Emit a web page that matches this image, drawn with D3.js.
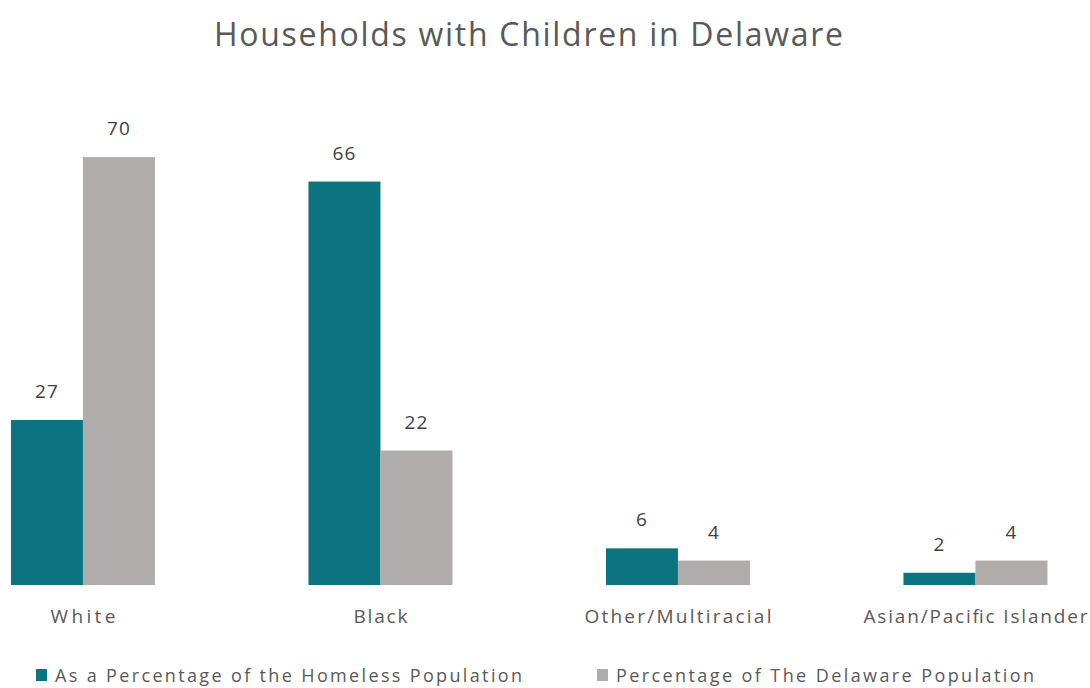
<!DOCTYPE html>
<html>
<head>
<meta charset="utf-8">
<script src="https://cdn.jsdelivr.net/npm/d3@7/dist/d3.min.js"></script>
<style>
  html, body { margin: 0; padding: 0; background: #ffffff; }
  svg { display: block; font-family: "Open Sans", "Noto Sans", sans-serif; }
</style>
</head>
<body>
<svg id="chart" width="1090" height="688"></svg>
<script>
// Chart data
const categories = ["White", "Black", "Other/Multiracial", "Asian/Pacific Islander"];
const seriesNames = ["As a Percentage of the Homeless Population", "Percentage of The Delaware Population"];
const homelessPct = [27, 66, 6, 2];
const delawarePct = [70, 22, 4, 4];
const seriesColors = ["#0b7480", "#b0acab"];

// Layout: rendered widths of the wide-set text runs
const categoryLabelWidths = [65, 54, 187, 224];
const legendTextWidths = [467, 418];
const legendX = [36, 597];

const svg = d3.select("#chart");
const textColor = "#595959";

// Title
svg.append("text")
  .attr("x", 528.5).attr("y", 46)
  .attr("text-anchor", "middle")
  .attr("fill", textColor)
  .attr("font-size", 32)
  .attr("textLength", 629)
  .attr("lengthAdjust", "spacing")
  .text("Households with Children in Delaware");

// Scales
const x0 = d3.scaleBand()
  .domain(categories)
  .range([-65.8, 1124.2])
  .paddingInner(0.516)
  .paddingOuter(0.258);

const x1 = d3.scaleBand()
  .domain([0, 1])
  .range([0, x0.bandwidth()]);

const y = d3.scaleLinear().domain([0, 80]).range([585, 96]);

const rows = categories.map((c, i) => ({ cat: c, vals: [homelessPct[i], delawarePct[i]] }));

const groups = svg.append("g").selectAll("g")
  .data(rows).join("g")
  .attr("transform", d => `translate(${x0(d.cat)},0)`);

groups.selectAll("rect")
  .data(d => d.vals.map((v, k) => ({ v, k })))
  .join("rect")
  .attr("x", d => x1(d.k))
  .attr("width", x1.bandwidth())
  .attr("y", d => y(d.v))
  .attr("height", d => y(0) - y(d.v))
  .attr("fill", d => seriesColors[d.k]);

groups.selectAll("text.val")
  .data(d => d.vals.map((v, k) => ({ v, k })))
  .join("text")
  .attr("class", "val")
  .attr("x", d => x1(d.k) + x1.bandwidth() / 2)
  .attr("y", d => y(d.v) - 22)
  .attr("text-anchor", "middle")
  .attr("fill", "#404040")
  .attr("font-size", 19)
  .attr("letter-spacing", 1)
  .text(d => d.v);

// Category axis labels
const xAxis = d3.axisBottom(x0).tickSize(0).tickPadding(0);
const axisG = svg.append("g").attr("transform", `translate(0,${y(0)})`).call(xAxis);
axisG.select(".domain").remove();
axisG.selectAll("text")
  .attr("y", 38).attr("dy", 0)
  .attr("fill", textColor)
  .attr("font-size", 19)
  .attr("font-family", "\"Open Sans\", \"Noto Sans\", sans-serif")
  .attr("textLength", (d, i) => categoryLabelWidths[i])
  .attr("lengthAdjust", "spacing");

// Legend
const legend = svg.append("g").selectAll("g")
  .data(seriesNames).join("g")
  .attr("transform", (d, i) => `translate(${legendX[i]},669)`);
legend.append("rect")
  .attr("width", 11).attr("height", 12)
  .attr("fill", (d, i) => seriesColors[i]);
legend.append("text")
  .attr("x", 19).attr("y", 13)
  .attr("fill", textColor)
  .attr("font-size", 18)
  .attr("textLength", (d, i) => legendTextWidths[i])
  .attr("lengthAdjust", "spacing")
  .text(d => d);
</script>
</body>
</html>
